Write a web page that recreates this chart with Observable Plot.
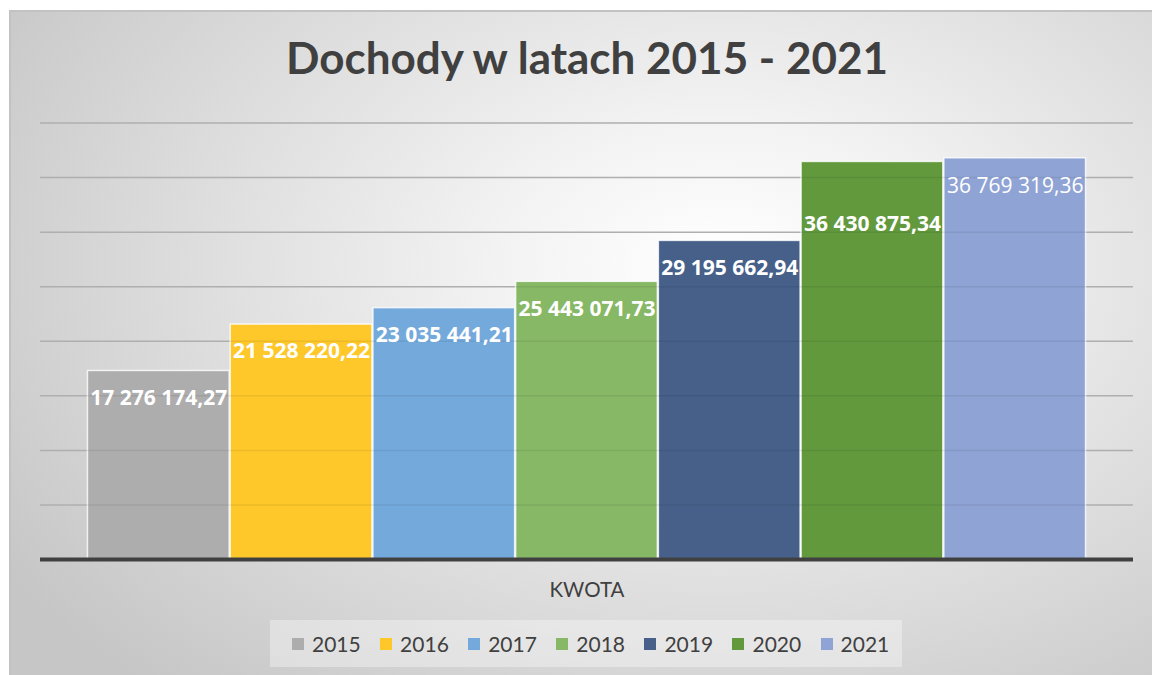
<!DOCTYPE html>
<html>
<head>
<meta charset="utf-8">
<script src="https://cdn.jsdelivr.net/npm/d3@7"></script>
<script src="https://cdn.jsdelivr.net/npm/@observablehq/plot@0.6"></script>
<style>
  html, body { margin: 0; padding: 0; background: #ffffff; width: 1152px; height: 675px; overflow: hidden; font-family: Lato, "Open Sans", sans-serif; }
  #frame { position: absolute; left: 9px; top: 10px; width: 1143px; height: 665px; box-sizing: border-box;
    border-left: 2px solid #c2c2c2; border-top: 2px solid #c2c2c2;
    background: radial-gradient(ellipse 75% 85% at 62% 38%, #ffffff 0%, #f3f3f3 25%, #dedede 60%, #c6c6c6 100%); }
  #title { position: absolute; left: 0; width: 1174px; top: 31px; text-align: center; font-size: 44px; font-weight: 700; color: #404040; }
  #chart { position: absolute; left: 0; top: 0; }
  #xlabel { position: absolute; left: 0; width: 1174px; top: 577px; text-align: center; font-size: 20.5px; color: #404040; }
  #legend { position: absolute; left: 270px; top: 620px; width: 632px; height: 47px; background: rgba(255,255,255,0.35);
    display: flex; align-items: center; padding-left: 22px; box-sizing: border-box; }
  .item { display: flex; align-items: center; width: 88.1px; flex: none; font-size: 21px; color: #404040; }
  .sw { width: 12px; height: 12px; margin-right: 8px; flex: none; }
</style>
</head>
<body>
<div id="frame"></div>
<div id="title">Dochody w latach 2015 - 2021</div>
<div id="chart"></div>
<div id="xlabel">KWOTA</div>
<div id="legend"></div>
<script>
const years = ["2015", "2016", "2017", "2018", "2019", "2020", "2021"];
const values = [17276174.27, 21528220.22, 23035441.21, 25443071.73, 29195662.94, 36430875.34, 36769319.36];
const colors = ["#adadad", "#fec82a", "#74a9dc", "#87b866", "#46608a", "#62993d", "#8fa3d4"];
const gridTicks = [5e6, 10e6, 15e6, 20e6, 25e6, 30e6, 35e6, 40e6];
const categoryLabel = "KWOTA";

const data = years.map((y, i) => ({year: y, value: values[i]}));
const fmt = d3.formatLocale({decimal: ",", thousands: " ", grouping: [3], currency: ["", ""]}).format(",.2f");
const labelFont = "'Open Sans', Lato, sans-serif";

const plot = Plot.plot({
  width: 1152,
  height: 600,
  marginTop: 122.5,
  marginBottom: 41,
  marginLeft: 40,
  marginRight: 19,
  style: {background: "transparent", overflow: "visible"},
  x: {domain: years, paddingInner: 0, paddingOuter: 0.329, round: false, axis: null},
  y: {domain: [0, 40e6], axis: null},
  color: {domain: years, range: colors},
  marks: [
    Plot.ruleY(gridTicks, {stroke: "#bdbdbd", strokeWidth: 1.5}),
    Plot.barY(data, {x: "year", y: "value", fill: "year", stroke: "#ffffff", strokeWidth: 1.5, strokeOpacity: 0.8, insetLeft: 0.5, insetRight: 0.5}),
    Plot.ruleY(gridTicks, {stroke: "#000000", strokeOpacity: 0.07, strokeWidth: 1.5}),
    Plot.ruleY([0], {stroke: "#404040", strokeWidth: 4}),
    Plot.text(data.filter(d => d.year !== "2020" && d.year !== "2021"), {x: "year", y: "value", text: d => fmt(d.value), dy: 27, fill: "#ffffff", fontSize: 21, fontWeight: "bold", fontFamily: labelFont}),
    Plot.text(data.filter(d => d.year === "2020"), {x: "year", y: "value", text: d => fmt(d.value), dy: 62, fill: "#ffffff", fontSize: 21, fontWeight: "bold", fontFamily: labelFont}),
    Plot.text(data.filter(d => d.year === "2021"), {x: "year", y: "value", text: d => fmt(d.value), dy: 28, fill: "#ffffff", fontSize: 21, fontWeight: "normal", fontFamily: labelFont})
  ]
});
document.getElementById("chart").appendChild(plot);
document.getElementById("xlabel").textContent = categoryLabel;

const legend = document.getElementById("legend");
years.forEach((y, i) => {
  const it = document.createElement("div");
  it.className = "item";
  const sw = document.createElement("span");
  sw.className = "sw";
  sw.style.background = colors[i];
  const t = document.createElement("span");
  t.textContent = y;
  it.appendChild(sw); it.appendChild(t);
  legend.appendChild(it);
});
</script>
</body>
</html>
